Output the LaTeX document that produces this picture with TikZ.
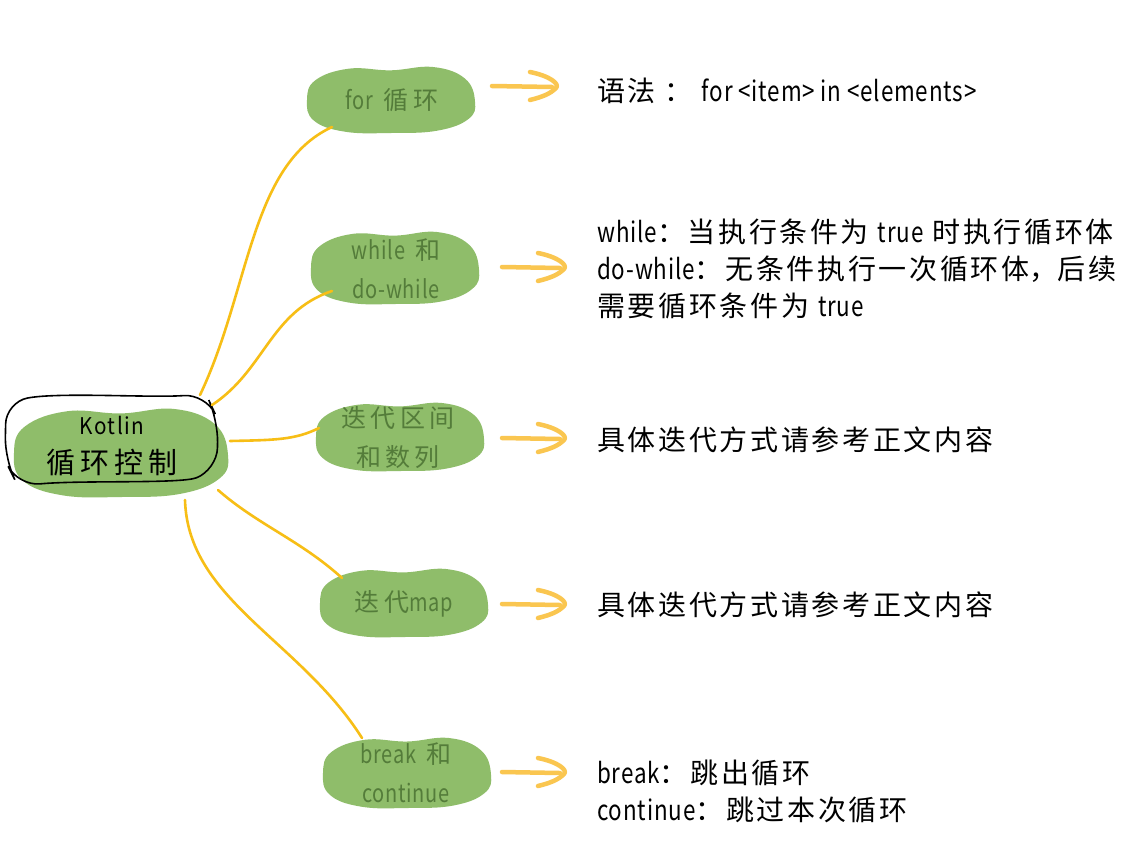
\documentclass[tikz,border=0pt]{standalone}
\usepackage{fontspec}
\setmainfont{Noto Sans CJK SC}
\newfontfamily\bodyfont[LetterSpace=9.5]{Noto Sans CJK SC}
\newfontfamily\blobfont[LetterSpace=18]{Noto Sans CJK SC}
\newfontfamily\latfont[FakeStretch=0.8,LetterSpace=3]{Noto Sans CJK SC}
\newfontfamily\rootlat[FakeStretch=0.9,LetterSpace=6]{Noto Sans CJK SC}
\newcommand\lat[1]{{\latfont #1}}
\definecolor{blobgreen}{RGB}{143,189,106}
\definecolor{blobtext}{RGB}{84,124,58}
\definecolor{conn}{RGB}{247,190,22}
\definecolor{arrowc}{RGB}{250,198,80}
\tikzset{
  conline/.style={draw=conn,line width=2.6pt,line cap=round},
  arrline/.style={draw=arrowc,line width=4.5pt,line cap=round,line join=round},
  blobtxt/.style={text=blobtext,font=\blobfont\fontsize{25}{39}\selectfont,align=center,inner sep=0pt},
  bodytxt/.style={text=black,font=\bodyfont\fontsize{28}{37}\selectfont,align=left,anchor=west,inner sep=0pt},
}
\newcommand\myblob[4]{%
  \begin{scope}[shift={(#1,#2)},xscale=#3,yscale=#4]
  \fill[blobgreen] plot[smooth cycle,tension=0.7] coordinates {(1,0.05) (0.92,0.58) (0.55,0.93) (0,1) (-0.55,0.96) (-0.92,0.62) (-1,0) (-0.9,-0.6) (-0.5,-0.95) (0,-0.9) (0.5,-1) (0.88,-0.65)};
  \end{scope}}
\newcommand\myarrow[3]{%
  \draw[arrline] (#1,#3) -- (#2-4,#3+1);
  \draw[arrline] (#2-26,#3-14) .. controls (#2-6,#3-10) and (#2+4,#3-2) .. (#2,#3+2) .. controls (#2-6,#3+8) and (#2-14,#3+11) .. (#2-26,#3+14);}
\begin{document}
\begin{tikzpicture}[x=1pt,y=-1pt]
\useasboundingbox (0,0) rectangle (1131,854);
\fill[white] (0,0) rectangle (1131,854);

% blobs
\myblob{391}{100}{84}{33}
\myblob{395}{268}{84}{36}
\myblob{400}{437}{84}{34}
\myblob{404}{603}{84}{34}
\myblob{407}{773}{84}{35}
\myblob{121}{453}{107}{44}

% root outline
\draw[black,line width=1.6pt,rounded corners=22pt] (6,402) .. controls (60,392) and (150,398) .. (206,394) -- (218,420) -- (217,470) .. controls (180,484) and (80,480) .. (18,486) -- (5,460) -- cycle;

% connectors
\coordinate (r1) at (200,395);
\coordinate (r2) at (212,405);
\coordinate (r3) at (230,441);
\coordinate (r4) at (218,490);
\coordinate (r5) at (185,500);
\coordinate (b1) at (332,127);
\coordinate (b2) at (332,291);
\coordinate (b3) at (319,428);
\coordinate (b4) at (342,578);
\coordinate (b5) at (362,738);
\draw[conline] (r1) .. controls (250,290) and (250,165) .. (b1);
\draw[conline] (r2) .. controls (265,370) and (270,312) .. (b2);
\draw[conline] (r3) .. controls (275,440) and (295,440) .. (b3);
\draw[conline] (r4) .. controls (258,525) and (300,540) .. (b4);
\draw[conline] (r5) .. controls (188,600) and (300,640) .. (b5);

% nodes
\node[inner sep=0pt,font=\rootlat\fontsize{23}{24}\selectfont] (rootA) at (112,425) {Kotlin};
\node[inner sep=0pt,font=\blobfont\fontsize{29}{32}\selectfont] (rootB) at (112,463) {循环控制};
\node[blobtxt] (n1) at (392,100) {\lat{for} 循环};
\node[blobtxt] (n2) at (396,269) {\lat{while} 和\\\lat{do-while}};
\node[blobtxt] (n3) at (398,438) {迭代区间\\和数列};
\node[blobtxt] (n4) at (404,604) {迭代\lat{map}};
\node[blobtxt] (n5) at (406,773) {\lat{break} 和\\\lat{continue}};

% arrows
\myarrow{492}{556}{86}
\myarrow{502}{564}{267}
\myarrow{502}{564}{438}
\myarrow{502}{564}{604}
\myarrow{502}{564}{772}

\node[bodytxt] (t1) at (597,91) {语法 ： \lat{for <item> in <elements>}};
\node[bodytxt] (t2) at (597,269) {\lat{while}：当执行条件为 \lat{true} 时执行循环体\\\lat{do-while}：无条件执行一次循环体{\fontspec{Noto Sans CJK SC}，}后续\\需要循环条件为 \lat{true}};
\node[bodytxt] (t3) at (597,440) {具体迭代方式请参考正文内容};
\node[bodytxt] (t4) at (597,605) {具体迭代方式请参考正文内容};
\node[bodytxt] (t5) at (597,791) {\lat{break}：跳出循环\\\lat{continue}：跳过本次循环};
\end{tikzpicture}
\end{document}
